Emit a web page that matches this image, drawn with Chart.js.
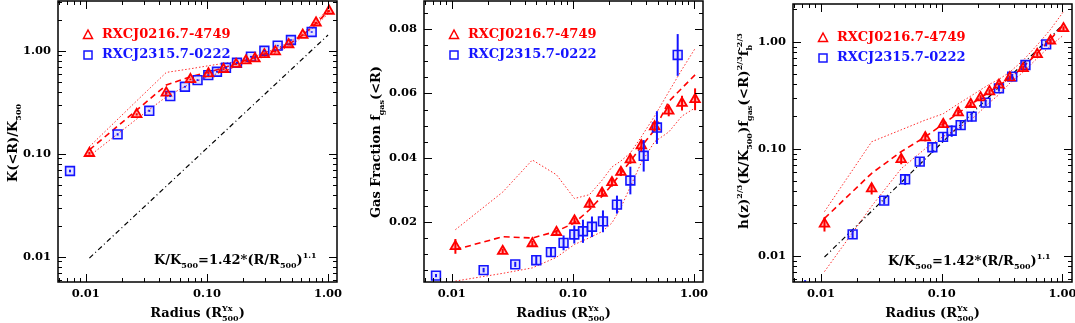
<!DOCTYPE html>
<html>
<head>
<meta charset="utf-8">
<script src="https://cdn.jsdelivr.net/npm/chart.js@4.4.1/dist/chart.umd.min.js"></script>
<style>
  body { margin: 0; background: #fff; width: 1075px; height: 323px; overflow: hidden; position: relative; }
  canvas { position: absolute; top: 0; }
</style>
</head>
<body>
<canvas id="c1" width="358" height="323" style="left:0px"></canvas>
<canvas id="c2" width="358" height="323" style="left:358px"></canvas>
<canvas id="c3" width="359" height="323" style="left:716px"></canvas>
<script>
// radii (R / R500^Yx) of the two clusters
const rRed = [0.0107, 0.0263, 0.0462, 0.0731, 0.103, 0.137, 0.174, 0.210, 0.249, 0.298, 0.367, 0.473, 0.618, 0.796, 1.02];
const rBlue = [0.0074, 0.0183, 0.0334, 0.0498, 0.0658, 0.0837, 0.1026, 0.121, 0.1436, 0.177, 0.231, 0.298, 0.384, 0.494, 0.733];

// panel 1 : scaled entropy K(<R)/K500
const kRed = [0.101, 0.241, 0.39, 0.527, 0.60, 0.66, 0.74, 0.80, 0.84, 0.92, 0.98, 1.15, 1.42, 1.87, 2.43];
const kRedErr = [0.003, 0.006, 0.01, 0.01, 0.012, 0.013, 0.014, 0.015, 0.016, 0.018, 0.02, 0.022, 0.028, 0.035, 0.045];
const kBlue = [0.068, 0.154, 0.261, 0.363, 0.447, 0.519, 0.580, 0.625, 0.684, 0.764, 0.875, 1.00, 1.12, 1.27, 1.52];
const kBlueErr = [0.002, 0.004, 0.006, 0.008, 0.009, 0.01, 0.01, 0.012, 0.013, 0.014, 0.016, 0.018, 0.02, 0.022, 0.025];
const kRedMean = [0.109, 0.265, 0.464, 0.56, 0.62, 0.68, 0.75, 0.81, 0.86, 0.93, 1.00, 1.15, 1.42, 1.85, 2.45];
const kRedHi = [0.117, 0.326, 0.616, 0.668, 0.715, 0.753, 0.782, 0.82, 0.88, 0.96, 1.04, 1.20, 1.48, 1.95, 2.55];
const kRedLo = [0.095, 0.217, 0.357, 0.48, 0.56, 0.63, 0.70, 0.76, 0.80, 0.88, 0.95, 1.10, 1.36, 1.78, 2.33];

// panel 2 : gas fraction fgas(<R)
const fRed = [0.0124, 0.0109, 0.0133, 0.0168, 0.0204, 0.0256, 0.0290, 0.0323, 0.0355, 0.0394, 0.0438, 0.0497, 0.0546, 0.0570, 0.0582];
const fRedErr = [0.0023, 0.0008, 0.0008, 0.0008, 0.0010, 0.0013, 0.0012, 0.0013, 0.0012, 0.0013, 0.0018, 0.0015, 0.0017, 0.0023, 0.0034];
const fBlue = [0.0033, 0.0050, 0.0068, 0.0081, 0.0106, 0.0135, 0.0161, 0.0171, 0.0185, 0.0202, 0.0254, 0.0329, 0.0406, 0.0494, 0.0720];
const fBlueErr = [0.0005, 0.0007, 0.0008, 0.0013, 0.0015, 0.0023, 0.0028, 0.0036, 0.0032, 0.0034, 0.0028, 0.0043, 0.0049, 0.0051, 0.0065];
const fRedMean = [0.0114, 0.0154, 0.0150, 0.0171, 0.0197, 0.0238, 0.0280, 0.0316, 0.0352, 0.0389, 0.0435, 0.0487, 0.0575, 0.0617, 0.0658];
const fRedHi = [0.0176, 0.0293, 0.0393, 0.0347, 0.0273, 0.0285, 0.0330, 0.0371, 0.0390, 0.0415, 0.0465, 0.0530, 0.0605, 0.0675, 0.0740];
const fRedLo = [0.0016, 0.0040, 0.0057, 0.0090, 0.0130, 0.0151, 0.0170, 0.0197, 0.0245, 0.0310, 0.0385, 0.0450, 0.0480, 0.0530, 0.0555];

// panel 3 : h(z)^2/3 (K/K500) fgas^2/3 fb^-2/3
const sRed = [0.0198, 0.0423, 0.0795, 0.127, 0.169, 0.217, 0.260, 0.300, 0.341, 0.394, 0.461, 0.563, 0.762, 1.02, 1.33];
const sRedErr = [0.003, 0.005, 0.008, 0.01, 0.012, 0.014, 0.015, 0.016, 0.018, 0.02, 0.022, 0.028, 0.035, 0.045, 0.06];
const sBlue = [0.0048, 0.0158, 0.0327, 0.0517, 0.0756, 0.103, 0.129, 0.147, 0.166, 0.199, 0.269, 0.366, 0.471, 0.605, 0.944];
const sBlueErr = [0.0011, 0.0012, 0.0025, 0.006, 0.007, 0.012, 0.014, 0.018, 0.016, 0.02, 0.018, 0.025, 0.03, 0.035, 0.04];
const sRedMean = [0.0223, 0.0588, 0.0938, 0.129, 0.170, 0.215, 0.258, 0.300, 0.340, 0.390, 0.455, 0.58, 0.78, 1.05, 1.45];
const sRedHi = [0.0258, 0.116, 0.150, 0.185, 0.212, 0.262, 0.31, 0.355, 0.40, 0.445, 0.52, 0.67, 0.93, 1.30, 1.91];
const sRedLo = [0.0071, 0.029, 0.065, 0.10, 0.13, 0.155, 0.185, 0.225, 0.27, 0.32, 0.41, 0.52, 0.70, 0.92, 1.15];

// K/K500 = 1.42 (R/R500)^1.1 , end points
const fitR = [0.0107, 1.0];
const fitK = [0.0097, 1.42];

// ticks
const xTickVals = [0.01, 0.1, 1];
const xTickLabels = ['0.01', '0.10', '1.00'];
const logTickVals = [0.01, 0.1, 1];
const logTickLabels = ['0.01', '0.10', '1.00'];
const fTickVals = [0.02, 0.04, 0.06, 0.08];
const fTickLabels = ['0.02', '0.04', '0.06', '0.08'];

const legendNames = ['RXCJ0216.7-4749', 'RXCJ2315.7-0222'];

const RED = '#ff0000';
const BLUE = '#1414ff';
const FONT = 'DejaVu Serif';

function pts(xs, ys) {
  return xs.map((x, i) => ({ x: x, y: ys[i] }));
}

function drawRich(ctx, parts, x, y, size, color, align) {
  const big = 'bold ' + size + 'px ' + FONT;
  const small = 'bold ' + Math.round(size * 0.62) + 'px ' + FONT;
  const segs = parts.map(p => {
    if (p[1] === 's') {
      ctx.font = small;
      return { p: p, w: Math.max(ctx.measureText(p[0][0]).width, ctx.measureText(p[0][1]).width) };
    }
    ctx.font = p[1] === 'n' ? big : small;
    return { p: p, w: ctx.measureText(p[0]).width };
  });
  const total = segs.reduce((a, s) => a + s.w, 0);
  let cx = align === 'center' ? x - total / 2 : x;
  ctx.fillStyle = color;
  ctx.textBaseline = 'alphabetic';
  ctx.textAlign = 'left';
  segs.forEach(s => {
    const t = s.p[0], k = s.p[1];
    if (k === 'n') { ctx.font = big; ctx.fillText(t, cx, y); }
    else if (k === 'b') { ctx.font = small; ctx.fillText(t, cx, y + size * 0.32); }
    else if (k === 'p') { ctx.font = small; ctx.fillText(t, cx, y - size * 0.45); }
    else {
      ctx.font = small;
      ctx.fillText(t[0], cx, y - size * 0.45);
      ctx.fillText(t[1], cx, y + size * 0.32);
    }
    cx += s.w;
  });
}

function minorTicks(scale, logType, step, majorStep) {
  const out = [];
  if (logType) {
    const e0 = Math.floor(Math.log10(scale.min)), e1 = Math.ceil(Math.log10(scale.max));
    for (let e = e0; e <= e1; e++) {
      for (let m = 1; m <= 9; m++) {
        const v = m * Math.pow(10, e);
        if (v >= scale.min && v <= scale.max) out.push({ v: v, major: m === 1 });
      }
    }
  } else {
    for (let v = 0; v <= scale.max + 1e-9; v += step) {
      if (v < scale.min) continue;
      const q = v / majorStep;
      out.push({ v: v, major: Math.abs(q - Math.round(q)) < 1e-6 });
    }
  }
  return out;
}

const panelDeco = {
  id: 'panelDeco',
  afterDraw(chart, args, o) {
    const ctx = chart.ctx;
    const a = chart.chartArea;
    const xs = chart.scales.x, ys = chart.scales.y;
    ctx.save();

    // error bars
    ctx.save();
    ctx.beginPath();
    ctx.rect(a.left, a.top, a.right - a.left, a.bottom - a.top);
    ctx.clip();
    chart.data.datasets.forEach(ds => {
      if (!ds.errors) return;
      ctx.strokeStyle = ds.borderColor;
      ctx.lineWidth = ds.errWidth || 1.5;
      ds.data.forEach((d, i) => {
        const e = ds.errors[i];
        const px = xs.getPixelForValue(d.x);
        ctx.beginPath();
        ctx.moveTo(px, ys.getPixelForValue(d.y - e));
        ctx.lineTo(px, ys.getPixelForValue(d.y + e));
        ctx.stroke();
      });
    });
    ctx.restore();

    // frame with inward ticks on all sides
    ctx.strokeStyle = '#000';
    ctx.lineWidth = 1.5;
    ctx.strokeRect(a.left, a.top, a.right - a.left, a.bottom - a.top);
    ctx.lineWidth = 1;
    minorTicks(xs, true).forEach(t => {
      const px = Math.round(xs.getPixelForValue(t.v)) + 0.5;
      const len = t.major ? 8 : 4;
      ctx.beginPath();
      ctx.moveTo(px, a.bottom); ctx.lineTo(px, a.bottom - len);
      ctx.moveTo(px, a.top); ctx.lineTo(px, a.top + len);
      ctx.stroke();
    });
    minorTicks(ys, o.yLog, 0.005, 0.02).forEach(t => {
      const py = Math.round(ys.getPixelForValue(t.v)) + 0.5;
      const len = t.major ? 8 : 4;
      ctx.beginPath();
      ctx.moveTo(a.left, py); ctx.lineTo(a.left + len, py);
      ctx.moveTo(a.right, py); ctx.lineTo(a.right - len, py);
      ctx.stroke();
    });

    // tick labels, placed with the chart scales
    ctx.fillStyle = '#000';
    ctx.font = 'bold 11.5px ' + FONT;
    ctx.textAlign = 'center';
    ctx.textBaseline = 'middle';
    xTickVals.forEach((v, i) => ctx.fillText(xTickLabels[i], xs.getPixelForValue(v), a.bottom + 12));
    ctx.textAlign = 'right';
    o.yTickVals.forEach((v, i) => ctx.fillText(o.yTickLabels[i], a.left - 7, ys.getPixelForValue(v)));

    // legend inside the box
    const lx = a.left + 30, tx = a.left + 44;
    const ly1 = a.top + 34, ly2 = a.top + 54;
    ctx.lineWidth = 1.5;
    ctx.strokeStyle = RED;
    ctx.beginPath();
    ctx.moveTo(lx, ly1 - 5); ctx.lineTo(lx + 4.5, ly1 + 3.5); ctx.lineTo(lx - 4.5, ly1 + 3.5); ctx.closePath();
    ctx.stroke();
    ctx.strokeStyle = BLUE;
    ctx.strokeRect(lx - 4, ly2 - 4, 8, 8);
    ctx.font = 'bold 13px ' + FONT;
    ctx.textAlign = 'left';
    ctx.textBaseline = 'middle';
    ctx.fillStyle = RED;
    ctx.fillText(legendNames[0], tx, ly1);
    ctx.fillStyle = BLUE;
    ctx.fillText(legendNames[1], tx, ly2);

    // axis titles
    drawRich(ctx, [['Radius (R', 'n'], [['Yx', '500'], 's'], [')', 'n']], (a.left + a.right) / 2, 317, 13, '#000', 'center');
    ctx.save();
    ctx.translate(o.yTitleX, o.yTitleY);
    ctx.rotate(-Math.PI / 2);
    drawRich(ctx, o.yTitle, 0, 0, o.yTitleSize || 13, '#000', 'center');
    ctx.restore();

    if (o.annot) {
      drawRich(ctx, [['K/K', 'n'], ['500', 'b'], ['=1.42*(R/R', 'n'], ['500', 'b'], [')', 'n'], ['1.1', 'p']],
        o.annot[0], o.annot[1], 13, '#000', 'left');
    }
    ctx.restore();
  }
};

function markerSets(xR, yR, eR, xB, yB, eB) {
  return [
    { data: pts(xR, yR), errors: eR, showLine: false, pointStyle: 'triangle', pointRadius: 5.5,
      borderColor: RED, pointBorderColor: RED, pointBackgroundColor: 'rgba(255,0,0,0.3)', pointBorderWidth: 1.8, errWidth: 2 },
    { data: pts(xB, yB), errors: eB, showLine: false, pointStyle: 'rect', pointRadius: 6.2,
      borderColor: BLUE, pointBorderColor: BLUE, pointBackgroundColor: 'rgba(60,60,255,0.15)', pointBorderWidth: 1.6, errWidth: 2 }
  ];
}

function lineSets(mean, hi, lo) {
  return [
    { data: pts(rRed, mean), showLine: true, pointRadius: 0, borderColor: RED, borderWidth: 1.6, borderDash: [6, 4] },
    { data: pts(rRed, hi), showLine: true, pointRadius: 0, borderColor: '#ff2a2a', borderWidth: 1, borderDash: [1.5, 2] },
    { data: pts(rRed, lo), showLine: true, pointRadius: 0, borderColor: '#ff2a2a', borderWidth: 1, borderDash: [1.5, 2] }
  ];
}

function fitSet() {
  return { data: pts(fitR, fitK), showLine: true, pointRadius: 0, borderColor: '#000', borderWidth: 1.2, borderDash: [5, 3, 1, 3] };
}

function makePanel(id, cfg) {
  const canvas = document.getElementById(id);
  const W = canvas.width, H = canvas.height;
  cfg.deco.yTickVals = cfg.yTickVals;
  cfg.deco.yTickLabels = cfg.yTickLabels;
  return new Chart(canvas, {
    type: 'scatter',
    data: { datasets: cfg.datasets },
    plugins: [panelDeco],
    options: {
      responsive: false,
      animation: false,
      devicePixelRatio: 1,
      layout: {
        autoPadding: false,
        padding: { left: cfg.area.left, top: cfg.area.top, right: W - cfg.area.right, bottom: H - cfg.area.bottom }
      },
      plugins: {
        legend: { display: false },
        tooltip: { enabled: false },
        panelDeco: cfg.deco
      },
      scales: {
        x: { type: 'logarithmic', display: false, min: cfg.xMin, max: cfg.xMax },
        y: { type: cfg.yType, display: false, min: cfg.yMin, max: cfg.yMax }
      }
    }
  });
}

makePanel('c1', {
  area: { left: 58, right: 337, top: 1, bottom: 282 },
  xMin: 0.00589, xMax: 1.186,
  yType: 'logarithmic', yMin: 0.00568, yMax: 3.04,
  yTickVals: logTickVals, yTickLabels: logTickLabels,
  datasets: markerSets(rRed, kRed, kRedErr, rBlue, kBlue, kBlueErr)
    .concat(lineSets(kRedMean, kRedHi, kRedLo)).concat([fitSet()]),
  deco: { yLog: true, yTitle: [['K(<R)/K', 'n'], ['500', 'b']], yTitleX: 17, yTitleY: 143, annot: [154, 264] }
});

makePanel('c2', {
  area: { left: 66, right: 345, top: 1, bottom: 282 },
  xMin: 0.00589, xMax: 1.186,
  yType: 'linear', yMin: 0.00131, yMax: 0.0888,
  yTickVals: fTickVals, yTickLabels: fTickLabels,
  datasets: markerSets(rRed, fRed, fRedErr, rBlue, fBlue, fBlueErr)
    .concat(lineSets(fRedMean, fRedHi, fRedLo)),
  deco: { yLog: false, yTitle: [['Gas Fraction f', 'n'], ['gas', 'b'], ['(<R)', 'n']], yTitleX: 22, yTitleY: 142 }
});

makePanel('c3', {
  area: { left: 77, right: 356, top: 4, bottom: 282 },
  xMin: 0.00587, xMax: 1.2,
  yType: 'logarithmic', yMin: 0.00567, yMax: 2.25,
  yTickVals: logTickVals, yTickLabels: logTickLabels,
  datasets: markerSets(rRed, sRed, sRedErr, rBlue, sBlue, sBlueErr)
    .concat(lineSets(sRedMean, sRedHi, sRedLo)).concat([fitSet()]),
  deco: {
    yLog: true,
    yTitle: [['h(z)', 'n'], ['2/3', 'p'], ['(K/K', 'n'], ['500', 'b'], [')f', 'n'], ['gas', 'b'], ['(<R)', 'n'], ['2/3', 'p'], ['f', 'n'], [['-2/3', 'b'], 's']],
    yTitleX: 32, yTitleY: 131, yTitleSize: 13.5, annot: [172, 265]
  }
});
</script>
</body>
</html>
